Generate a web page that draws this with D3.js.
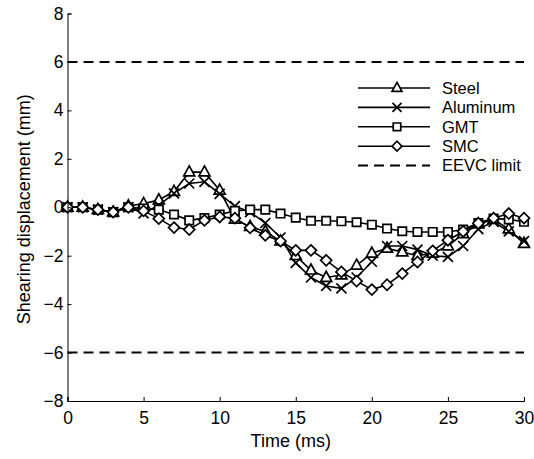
<!DOCTYPE html>
<html>
<head>
<meta charset="utf-8">
<script src="https://cdn.jsdelivr.net/npm/d3@7"></script>
<style>
  body { margin: 0; background: #fff; }
  svg { display: block; font-family: "Liberation Sans", Arial, sans-serif; }
</style>
</head>
<body>
<div id="graf"></div>
<script>
// datos
tiempo   = d3.range(0, 31)
steel    = [0, 0, -0.1, -0.2, 0.05, 0.15, 0.3, 0.65, 1.45, 1.45, 0.7, -0.5, -0.8, -1.0, -1.4, -2.0, -2.6, -2.9, -2.8, -2.4, -1.9, -1.7, -1.85, -2.0, -1.9, -1.6, -1.1, -0.7, -0.5, -0.9, -1.5]
aluminum = [0, 0, -0.1, -0.2, 0, -0.25, 0.08, 0.57, 0.98, 1.05, 0.55, 0.05, -0.2, -0.65, -1.25, -2.3, -2.9, -3.25, -3.35, -2.9, -2.25, -1.6, -1.6, -1.75, -2.0, -2.05, -1.6, -0.9, -0.6, -1.0, -1.4]
gmt      = [0, 0, -0.1, -0.2, 0, -0.05, -0.1, -0.3, -0.54, -0.45, -0.3, -0.15, -0.1, -0.1, -0.26, -0.43, -0.56, -0.56, -0.58, -0.62, -0.72, -0.88, -0.99, -1.02, -1.02, -1.02, -0.92, -0.65, -0.47, -0.5, -0.6]
smc      = [0, 0, -0.1, -0.2, 0, -0.15, -0.47, -0.84, -0.92, -0.54, -0.4, -0.45, -0.85, -1.16, -1.4, -1.78, -1.78, -2.19, -2.67, -3.05, -3.4, -3.2, -2.74, -2.26, -1.8, -1.36, -1.0, -0.66, -0.45, -0.26, -0.45]
eevc     = [6, -6]

series = [
  { nombre: 'Steel',    valores: steel,    marca: 'tri' },
  { nombre: 'Aluminum', valores: aluminum, marca: 'x' },
  { nombre: 'GMT',      valores: gmt,      marca: 'sq' },
  { nombre: 'SMC',      valores: smc,      marca: 'dia' }
]

xTicks = [0, 5, 10, 15, 20, 25, 30]
yTicks = [-8, -6, -4, -2, 0, 2, 4, 6, 8]

// configuracion
ANCHO_TOTAL = 534
ALTO_TOTAL  = 459
FUENTE      = '"Liberation Sans", Arial, sans-serif'
margins = { top: 13.5, left: 67.5, right: 10, bottom: 58 }
ancho = ANCHO_TOTAL - margins.left - margins.right
alto  = ALTO_TOTAL - margins.top - margins.bottom

svg = d3.select('#graf').append('svg')
  .attr('width', ANCHO_TOTAL)
  .attr('height', ALTO_TOTAL)

g = svg.append('g').attr('transform', `translate(${margins.left},${margins.top})`)

fx = d3.scaleLinear().domain([0, 30]).range([0, ancho])
fy = d3.scaleLinear().domain([-8, 8]).range([alto, 0])

// marcas
function pathMarca(tipo, s) {
  p = d3.path()
  if (tipo == 'tri') {
    p.moveTo(0, -s * 0.62); p.lineTo(s * 0.55, s * 0.38); p.lineTo(-s * 0.55, s * 0.38); p.closePath()
  } else if (tipo == 'x') {
    p.moveTo(-s / 2, -s / 2); p.lineTo(s / 2, s / 2)
    p.moveTo(s / 2, -s / 2); p.lineTo(-s / 2, s / 2)
  } else if (tipo == 'sq') {
    p.rect(-s * 0.42, -s * 0.42, s * 0.84, s * 0.84)
  } else {
    p.moveTo(0, -s * 0.55); p.lineTo(s * 0.55, 0); p.lineTo(0, s * 0.55); p.lineTo(-s * 0.55, 0); p.closePath()
  }
  return p.toString()
}

// limites EEVC
g.selectAll('line.eevc').data(eevc).enter()
  .append('line')
  .attr('class', 'eevc')
  .attr('x1', 0).attr('x2', ancho)
  .attr('y1', d => fy(d)).attr('y2', d => fy(d))
  .attr('stroke', '#000')
  .attr('stroke-width', 2)
  .attr('stroke-dasharray', '10,6')

linea = d3.line().x((d, i) => fx(tiempo[i])).y(d => fy(d))

series.forEach(s => {
  g.append('path')
    .attr('d', linea(s.valores))
    .attr('fill', 'none')
    .attr('stroke', '#000')
    .attr('stroke-width', 1.6)
})
series.forEach(s => {
  g.selectAll('path.m-' + s.marca).data(s.valores).enter()
    .append('path')
    .attr('class', 'm-' + s.marca)
    .attr('d', pathMarca(s.marca, 10))
    .attr('transform', (d, i) => `translate(${fx(tiempo[i])},${fy(d)})`)
    .attr('fill', s.marca == 'x' ? 'none' : '#fff')
    .attr('stroke', '#000')
    .attr('stroke-width', 1.7)
})

// ejes
ejeX = g.append('g').attr('transform', `translate(0,${alto})`)
  .call(d3.axisBottom(fx).tickValues(xTicks).tickSizeInner(-4).tickSizeOuter(-4).tickPadding(8))
ejeY = g.append('g')
  .call(d3.axisLeft(fy).tickValues(yTicks).tickSizeInner(-4).tickSizeOuter(-4).tickPadding(4))
;[ejeX, ejeY].forEach(e => {
  e.select('.domain').attr('stroke', '#000').attr('stroke-width', 1)
  e.selectAll('.tick line').attr('stroke', '#000')
  e.selectAll('.tick text').attr('font-size', 17.5).attr('fill', '#000')
    .attr('font-family', FUENTE)
})
ejeX.selectAll('.tick text').attr('dy', '0.88em')

svg.append('text')
  .attr('x', margins.left + ancho / 2 - 5).attr('y', 447)
  .attr('text-anchor', 'middle').attr('font-size', 18)
  .text('Time (ms)')

svg.append('text')
  .attr('transform', `translate(30,${margins.top + alto / 2 + 2}) rotate(-90)`)
  .attr('text-anchor', 'middle').attr('font-size', 18)
  .text('Shearing displacement (mm)')

// leyenda
leyenda = svg.append('g').attr('transform', 'translate(358,88)')
filas = series.map(s => ({ nombre: s.nombre, marca: s.marca })).concat([{ nombre: 'EEVC limit', marca: null }])
filas.forEach((f, i) => {
  fila = leyenda.append('g').attr('transform', `translate(0,${i * 19.4})`)
  fila.append('line')
    .attr('x1', 0).attr('x2', 72).attr('y1', 0).attr('y2', 0)
    .attr('stroke', '#000')
    .attr('stroke-width', f.marca ? 1.6 : 2)
    .attr('stroke-dasharray', f.marca ? null : '10,6')
  if (f.marca) {
    fila.append('path')
      .attr('d', pathMarca(f.marca, 9))
      .attr('transform', 'translate(39,0)')
      .attr('fill', f.marca == 'x' ? 'none' : '#fff')
      .attr('stroke', '#000').attr('stroke-width', 1.7)
  }
  fila.append('text')
    .attr('x', 84).attr('y', 0).attr('dy', '0.35em')
    .attr('font-size', 16.5)
    .text(f.nombre)
})
</script>
</body>
</html>
